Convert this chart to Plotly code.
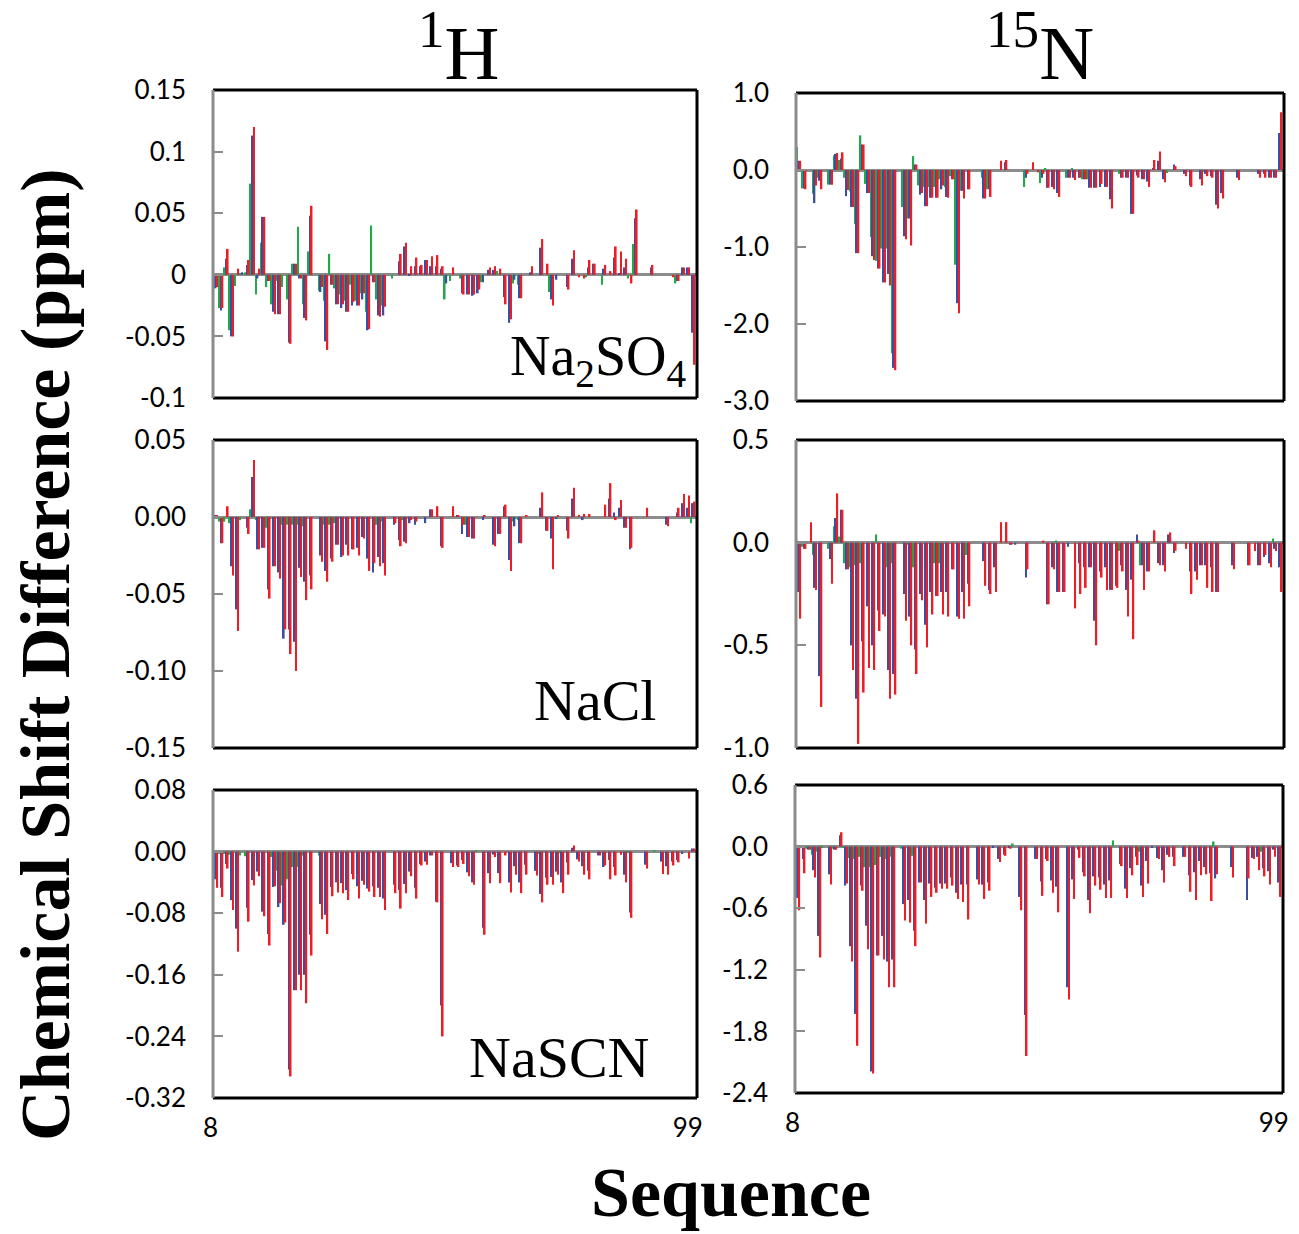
import plotly.graph_objects as go

residues = list(range(8, 100))

# ---- 1H, Na2SO4 ----
hs_g = [0, -0.027, 0.006, -0.045, -0.009, 0.001, 0.002, 0.074, -0.016, 0.026,
        -0.01, -0.024, -0.005, -0.01, -0.02, 0.009, 0.039, -0.024, 0.019, 0,
        -0.013, -0.021, 0.017, -0.011, -0.016, -0.021, -0.008, -0.021, -0.015, -0.03,
        0.04, -0.02, -0.025, 0, -0.003, 0, 0, 0, 0, 0,
        0, 0, 0, 0, -0.02, -0.005, 0, -0.003, 0, 0,
        0, -0.006, 0, 0, 0.003, 0, 0, -0.007, -0.008, 0,
        0, 0, 0, 0, -0.014, 0, 0, 0, 0, 0,
        0, -0.002, 0, 0, -0.008, 0, 0, 0, 0, -0.003,
        0.025, 0, 0, 0, 0, 0, 0, 0, -0.007, 0,
        0, 0]
hs_b = [-0.011, -0.029, 0.013, -0.05, 0, 0.002, 0.008, 0.113, -0.003, 0.047,
        -0.005, -0.03, -0.032, 0, -0.055, 0.009, -0.003, -0.035, 0.048, 0,
        -0.014, -0.054, -0.008, -0.024, -0.027, -0.03, -0.025, -0.025, -0.02, -0.045,
        -0.006, -0.033, -0.033, 0, 0, 0.011, 0.023, -0.001, 0.007, 0.007,
        0.012, 0.007, 0.007, 0.005, -0.007, 0, 0, -0.015, -0.016, -0.017,
        -0.015, -0.006, 0.004, 0.004, 0, -0.018, -0.039, -0.004, -0.019, 0,
        0.002, 0, 0.022, 0, -0.02, -0.004, 0, -0.01, 0.013, 0,
        0, 0.006, 0.009, 0, 0.005, 0, 0.014, 0.001, 0.006, 0,
        0.046, 0, 0, 0.006, 0, 0, 0, 0, -0.005, 0.006,
        0.006, -0.047]
hs_r = [-0.01, -0.027, 0.021, -0.05, 0.005, 0, 0.012, 0.12, 0.005, 0.047,
        -0.005, -0.032, -0.032, 0, -0.056, 0.009, -0.003, -0.037, 0.056, 0,
        -0.01, -0.061, -0.008, -0.024, -0.024, -0.03, -0.022, -0.025, -0.015, -0.044,
        -0.006, -0.034, -0.026, 0, 0, 0.017, 0.026, 0.007, 0.014, 0.008,
        0.012, 0.015, 0.016, 0.007, 0, 0.006, 0, -0.016, -0.016, -0.016,
        -0.012, 0, 0.006, 0.007, 0.005, -0.024, -0.036, 0, -0.019, 0,
        0.007, 0, 0.029, 0.009, -0.025, 0, 0, -0.012, 0.02, -0.002,
        -0.003, 0.012, 0.009, 0, 0.008, 0.003, 0.023, 0.019, 0.013, -0.007,
        0.053, 0, 0, 0.008, 0, 0, 0, -0.002, -0.005, 0.006,
        0.006, -0.073]

# ---- 1H, NaCl ----
hc_g = [-0.001, -0.003, -0.003, -0.004, 0, -0.002, 0, 0.005, -0.002, 0,
        -0.007, 0, 0, -0.005, -0.005, -0.005, -0.005, -0.006, 0, 0,
        0, -0.005, -0.005, -0.004, 0, 0, 0, 0, 0, 0,
        0, -0.005, -0.003, 0, 0, 0, -0.002, 0, 0, 0,
        0, 0, 0, 0, 0, 0, 0, 0, -0.005, 0,
        0, 0, 0, 0, 0, 0, 0, -0.003, -0.002, 0,
        0, 0, 0, 0, 0, 0, 0, 0, 0, 0,
        0, 0, 0, 0, 0, 0, 0, 0, 0, 0,
        0, 0, 0, 0, 0, 0, 0, 0, 0, 0,
        0, -0.004]
hc_b = [0.001, -0.017, 0, -0.032, -0.06, 0, -0.007, 0.026, -0.021, -0.02,
        -0.047, -0.032, -0.036, -0.079, -0.073, -0.081, -0.033, -0.042, -0.038, 0,
        -0.025, -0.035, -0.027, -0.018, -0.026, -0.018, -0.021, -0.02, -0.013, -0.027,
        -0.036, -0.026, -0.03, 0, -0.005, -0.015, -0.016, -0.004, -0.005, 0,
        -0.004, 0.005, 0, -0.019, 0, 0, 0.001, -0.011, -0.013, -0.014,
        0, -0.002, 0, -0.018, -0.011, 0.007, -0.028, -0.006, -0.017, 0,
        0, 0, 0.006, -0.009, -0.014, -0.001, 0, -0.009, 0.012, 0,
        -0.002, 0, 0, 0, 0, 0.012, 0.003, 0.006, -0.007, -0.021,
        0, 0, 0, 0, 0, 0, -0.005, 0, 0.003, 0.009,
        0.006, 0.009]
hc_r = [0.001, -0.017, 0.007, -0.038, -0.074, 0, -0.011, 0.037, -0.021, -0.02,
        -0.053, -0.032, -0.04, -0.073, -0.089, -0.1, -0.039, -0.054, -0.047, 0,
        -0.029, -0.042, -0.029, -0.018, -0.025, -0.025, -0.021, -0.025, -0.014, -0.035,
        -0.03, -0.032, -0.038, 0, -0.004, -0.019, -0.017, -0.002, -0.003, 0,
        0, 0.005, 0.007, -0.02, 0, 0.007, 0.001, -0.005, -0.013, -0.014,
        0, 0.001, 0, -0.019, -0.011, 0.008, -0.035, 0, -0.017, 0.001,
        0, 0, 0.016, -0.009, -0.034, 0.001, 0, -0.014, 0.019, 0.001,
        0.002, 0.002, 0, 0, 0.008, 0.022, -0.002, 0.011, -0.007, -0.02,
        0, 0, 0.006, 0, 0, 0, -0.006, 0, 0.006, 0.015,
        0.014, 0.01]

# ---- 1H, NaSCN ----
hn_g = [-0.003, -0.003, -0.003, -0.004, 0, -0.005, -0.006, 0, 0, 0,
        0, -0.007, -0.025, -0.044, -0.036, -0.02, -0.02, -0.005, 0, 0,
        -0.005, 0, 0, 0, 0, 0, 0, 0, 0, 0,
        0, 0, 0, 0, 0, 0, 0, 0, 0, 0,
        0, 0, 0, 0, 0, 0, 0, 0, 0, 0,
        0.002, 0, 0, 0, 0, 0, 0, 0, 0, 0,
        0, 0, -0.003, 0, 0, 0, -0.002, 0, 0, 0,
        0, 0, 0, 0, 0, 0, 0, 0, 0, -0.002,
        0, 0, 0, 0, 0.002, 0, 0, 0, 0, 0,
        0, 0]
hn_b = [-0.036, -0.047, -0.016, -0.063, -0.1, 0, -0.073, -0.037, -0.026, -0.078,
        -0.107, -0.046, -0.072, -0.095, -0.283, -0.18, -0.16, -0.16, -0.108, 0,
        -0.068, -0.082, -0.046, -0.04, -0.041, -0.05, -0.029, -0.045, -0.038, -0.048,
        -0.045, -0.047, -0.061, 0, -0.043, -0.05, -0.042, -0.026, -0.047, -0.016,
        -0.013, -0.005, -0.065, -0.2, 0, -0.015, -0.018, -0.011, -0.027, -0.04,
        0, -0.099, -0.028, -0.004, -0.028, 0, -0.04, -0.019, -0.04, -0.017,
        0, -0.025, -0.055, -0.034, -0.033, -0.026, -0.04, -0.014, 0.005, -0.01,
        -0.019, -0.025, 0, -0.005, -0.02, -0.011, -0.02, 0, -0.03, -0.079,
        0, 0, -0.017, 0, 0, -0.013, -0.019, -0.013, -0.011, -0.003,
        0, 0.004]
hn_r = [-0.047, -0.059, -0.022, -0.076, -0.13, 0, -0.091, -0.044, -0.032, -0.084,
        -0.122, -0.045, -0.067, -0.092, -0.292, -0.18, -0.18, -0.197, -0.135, 0,
        -0.088, -0.107, -0.058, -0.053, -0.054, -0.063, -0.036, -0.061, -0.043, -0.052,
        -0.059, -0.059, -0.076, 0, -0.054, -0.074, -0.054, -0.032, -0.061, -0.018,
        -0.017, -0.005, -0.066, -0.24, 0, -0.02, -0.02, -0.016, -0.032, -0.043,
        0, -0.108, -0.041, -0.007, -0.041, -0.005, -0.053, -0.03, -0.054, -0.03,
        0, -0.031, -0.066, -0.043, -0.043, -0.03, -0.054, -0.03, 0.008, -0.013,
        -0.03, -0.036, 0, -0.005, -0.018, -0.036, -0.031, -0.004, -0.04, -0.086,
        0, 0, -0.022, 0, 0, -0.029, -0.03, -0.018, -0.014, 0,
        -0.009, 0.004]

# ---- 15N, Na2SO4 ----
ns_g = [0.3, -0.24, 0, -0.31, -0.1, 0, -0.19, 0.19, 0.13, -0.1,
        -0.28, -0.7, 0.45, -0.18, -0.87, -1.18, -1.02, -1.02, -2.38, 0,
        -0.48, -0.63, 0.18, -0.2, -0.22, -0.22, -0.22, -0.12, -0.22, -0.08,
        -1.23, -0.27, 0, 0, 0, -0.1, -0.25, 0, 0, 0,
        0, 0, 0, -0.22, 0, 0, -0.17, 0.02, 0, 0,
        0, -0.1, 0.02, 0, -0.12, -0.12, 0, 0, 0, 0,
        0, -0.05, 0, 0, 0, 0, 0, 0, 0, 0,
        -0.04, 0, 0, 0, 0, 0, 0, -0.02, 0, 0,
        0, 0, 0, 0, 0, 0, 0, 0, 0, 0,
        0, 0]
ns_b = [0.12, -0.24, 0, -0.43, -0.14, 0, -0.19, 0.21, 0.15, -0.34,
        -0.48, -1.08, 0.33, -0.3, -1.12, -1.28, -1.46, -1.35, -2.57, 0,
        -0.86, -0.63, 0.07, -0.32, -0.47, -0.36, -0.36, -0.25, -0.35, -0.12,
        -1.73, -0.27, -0.25, 0, 0, -0.37, -0.25, 0, 0, 0.1,
        0, 0, 0, -0.1, 0, 0, -0.1, -0.23, -0.22, -0.3,
        0, -0.1, -0.1, -0.1, -0.12, -0.23, -0.23, -0.22, -0.22, -0.38,
        0, -0.1, -0.1, -0.57, -0.07, -0.12, -0.15, 0.02, 0.12, -0.12,
        0, 0.07, 0, -0.05, -0.2, 0, -0.12, -0.05, -0.08, -0.45,
        -0.3, 0, 0, -0.1, 0, 0, 0, -0.05, -0.05, -0.1,
        -0.1, 0.48]
ns_r = [0.12, -0.25, 0, -0.2, -0.25, 0, -0.19, 0.22, 0.23, -0.26,
        -0.48, -1.08, 0.33, -0.3, -1.17, -1.28, -1.46, -1.5, -2.6, 0,
        -0.9, -0.98, 0.07, -0.3, -0.47, -0.36, -0.36, -0.2, -0.36, -0.12,
        -1.86, -0.37, -0.25, 0, 0, -0.37, -0.35, 0, 0.12, 0.13,
        0, 0, 0, -0.05, 0.1, -0.03, -0.05, -0.23, -0.25, -0.35,
        0, -0.1, -0.13, -0.1, -0.12, -0.23, -0.23, -0.18, -0.22, -0.5,
        0, -0.1, -0.1, -0.57, -0.1, -0.12, -0.22, 0.13, 0.24, -0.16,
        0, 0.05, 0, -0.08, -0.22, 0, -0.2, -0.08, -0.1, -0.5,
        -0.37, 0, 0, -0.13, 0, 0, 0, -0.1, -0.1, -0.1,
        -0.1, 0.75]

# ---- 15N, NaCl ----
nc_g = [0.01, -0.02, 0, -0.06, 0, 0, -0.03, 0.08, 0.03, -0.1,
        -0.12, -0.11, -0.1, 0, 0, 0.04, 0, -0.12, -0.1, 0,
        0, -0.01, -0.12, 0, 0, 0, -0.1, -0.1, 0, 0,
        0, 0, -0.06, 0, 0, 0, 0, 0, 0, 0,
        0, 0, 0, 0, 0, 0, 0, 0, 0, 0.01,
        0, 0, 0, 0, 0, 0, 0, 0, 0, 0,
        0, -0.04, 0, 0, 0, -0.11, 0, 0, 0, 0,
        0, 0, 0, 0, 0, 0, 0, 0, 0, 0,
        0, 0, 0, 0, 0, 0, 0, 0, 0, 0,
        0.02, 0]
nc_b = [-0.24, -0.03, 0, -0.22, -0.65, 0, -0.08, 0.12, 0.16, -0.13,
        -0.5, -0.76, -0.48, -0.31, -0.5, -0.33, -0.35, -0.62, -0.64, 0,
        -0.25, -0.36, -0.52, -0.25, -0.4, -0.24, -0.26, -0.24, -0.24, -0.13,
        -0.36, -0.24, -0.2, 0, 0, -0.09, -0.23, -0.12, 0, 0,
        -0.01, -0.01, 0, -0.17, 0, 0, 0, -0.3, -0.12, -0.24,
        -0.24, -0.02, 0, -0.1, -0.12, -0.12, -0.38, -0.14, -0.12, -0.23,
        -0.21, -0.11, -0.23, -0.18, 0.04, -0.11, -0.14, 0, -0.1, -0.11,
        0.04, -0.05, 0, 0, -0.14, -0.14, -0.11, -0.11, -0.12, -0.24,
        0, 0, -0.11, 0, 0, -0.11, 0, -0.11, -0.07, -0.1,
        -0.03, -0.12]
nc_r = [-0.37, -0.03, 0.1, -0.23, -0.8, 0, -0.2, 0.24, 0.16, -0.13,
        -0.62, -0.98, -0.73, -0.61, -0.62, -0.43, -0.36, -0.76, -0.74, 0,
        -0.38, -0.5, -0.64, -0.28, -0.51, -0.35, -0.26, -0.35, -0.36, -0.13,
        -0.37, -0.37, -0.31, 0, 0, -0.21, -0.25, -0.24, 0.1, 0.1,
        -0.01, 0, 0, -0.13, 0, 0, 0.01, -0.3, -0.13, -0.24,
        -0.24, 0, -0.32, -0.25, -0.22, -0.12, -0.5, -0.17, -0.23, -0.23,
        -0.22, -0.14, -0.36, -0.47, 0.01, -0.23, -0.14, 0.06, -0.11, -0.14,
        0.05, -0.04, 0, -0.03, -0.25, -0.18, -0.11, -0.22, -0.24, -0.24,
        0, 0, -0.13, 0, 0, -0.11, -0.04, -0.11, -0.06, -0.12,
        -0.04, -0.24]

# ---- 15N, NaSCN ----
nn_g = [0, 0, -0.02, -0.08, -0.05, -0.01, 0, -0.02, 0, -0.01,
        -0.11, -0.12, -0.1, -0.2, -0.2, -0.18, -0.1, -0.12, -0.1, 0,
        -0.02, 0, -0.09, 0, 0, 0, 0, 0, 0, 0,
        0, 0, 0, 0, 0, 0, 0, 0, 0, 0,
        0, 0.03, 0, 0, 0, 0, 0, 0, 0, 0,
        0, 0, 0, 0, 0, 0, 0, 0, 0, 0,
        0.06, 0, 0, 0, 0, -0.05, 0, 0, 0, 0,
        0, 0, 0, 0, 0, 0, 0, 0, 0, 0.05,
        0, 0, 0, 0, 0, 0, 0, 0, -0.05, 0,
        0, 0]
nn_b = [-0.5, -0.12, -0.03, -0.23, -0.87, 0, -0.27, -0.03, 0.11, -0.38,
        -0.97, -1.63, -0.38, -0.77, -2.19, -1.06, -0.87, -1.12, -1.1, 0,
        -0.56, -0.52, -0.82, -0.35, -0.52, -0.36, -0.4, -0.36, -0.36, -0.3,
        -0.45, -0.37, -0.37, 0, -0.32, -0.37, -0.35, -0.01, -0.12, -0.08,
        -0.01, 0, -0.49, -1.64, 0, -0.12, -0.34, -0.12, -0.33, -0.39,
        0, -1.37, -0.32, -0.03, -0.25, -0.52, -0.29, -0.3, -0.37, -0.33,
        0, -0.17, -0.41, -0.21, -0.1, -0.38, -0.14, -0.01, -0.11, -0.23,
        -0.08, -0.1, 0, -0.1, -0.28, -0.25, -0.14, -0.2, -0.26, -0.31,
        0, 0, -0.2, 0, 0, -0.52, -0.11, -0.1, -0.21, -0.24,
        -0.03, -0.35]
nn_r = [-0.62, -0.26, -0.03, -0.3, -1.08, 0, -0.37, -0.03, 0.14, -0.36,
        -1.12, -1.94, -0.43, -1.0, -2.21, -1.06, -1.1, -1.37, -1.37, 0,
        -0.72, -0.74, -0.97, -0.35, -0.75, -0.49, -0.45, -0.41, -0.41, -0.38,
        -0.51, -0.54, -0.71, 0, -0.37, -0.51, -0.43, 0, -0.15, -0.09,
        -0.02, 0, -0.62, -2.04, 0, -0.12, -0.48, -0.14, -0.45, -0.64,
        0, -1.49, -0.51, -0.11, -0.29, -0.65, -0.38, -0.42, -0.5, -0.5,
        0, -0.19, -0.5, -0.28, -0.18, -0.49, -0.36, 0, -0.12, -0.35,
        -0.1, -0.19, 0, -0.1, -0.44, -0.52, -0.28, -0.27, -0.53, -0.27,
        0, 0, -0.3, 0, 0, -0.31, -0.12, -0.23, -0.29, -0.37,
        -0.1, -0.49]

# tick settings
hs_ticks = [-0.1, -0.05, 0, 0.05, 0.1, 0.15]
hs_text = ["-0.1", "-0.05", "0", "0.05", "0.1", "0.15"]
hc_ticks = [-0.15, -0.1, -0.05, 0, 0.05]
hc_text = ["-0.15", "-0.10", "-0.05", "0.00", "0.05"]
hn_ticks = [-0.32, -0.24, -0.16, -0.08, 0, 0.08]
hn_text = ["-0.32", "-0.24", "-0.16", "-0.08", "0.00", "0.08"]
ns_ticks = [-3, -2, -1, 0, 1]
ns_text = ["-3.0", "-2.0", "-1.0", "0.0", "1.0"]
nc_ticks = [-1, -0.5, 0, 0.5]
nc_text = ["-1.0", "-0.5", "0.0", "0.5"]
nn_ticks = [-2.4, -1.8, -1.2, -0.6, 0, 0.6]
nn_text = ["-2.4", "-1.8", "-1.2", "-0.6", "0.0", "0.6"]

W, H = 1299, 1234
def px_x(a, b):
    return [a / W, b / W]
def px_y(top, bot):
    return [1 - bot / H, 1 - top / H]

panels = [
    dict(g=hs_g, b=hs_b, r=hs_r, xd=px_x(213, 697), yd=px_y(90, 398), rng=[-0.1, 0.15], tv=hs_ticks, tt=hs_text, bottom=False),
    dict(g=ns_g, b=ns_b, r=ns_r, xd=px_x(796, 1284), yd=px_y(93, 401), rng=[-3, 1], tv=ns_ticks, tt=ns_text, bottom=False),
    dict(g=hc_g, b=hc_b, r=hc_r, xd=px_x(213, 697), yd=px_y(440, 748), rng=[-0.15, 0.05], tv=hc_ticks, tt=hc_text, bottom=False),
    dict(g=nc_g, b=nc_b, r=nc_r, xd=px_x(796, 1284), yd=px_y(440, 748), rng=[-1, 0.5], tv=nc_ticks, tt=nc_text, bottom=False),
    dict(g=hn_g, b=hn_b, r=hn_r, xd=px_x(213, 697), yd=px_y(790, 1098), rng=[-0.32, 0.08], tv=hn_ticks, tt=hn_text, bottom=True),
    dict(g=nn_g, b=nn_b, r=nn_r, xd=px_x(795, 1283), yd=px_y(785, 1093), rng=[-2.4, 0.6], tv=nn_ticks, tt=nn_text, bottom=True),
]

GREEN, BLUE, RED = "#22a84a", "#3b4ea0", "#ee1c25"
tickfont = dict(family="Lato, sans-serif", size=26, color="black")

fig = go.Figure()
layout = dict(width=W, height=H, margin=dict(l=0, r=0, t=0, b=0, autoexpand=False),
              paper_bgcolor="white", plot_bgcolor="white",
              barmode="group", bargap=0.06, bargroupgap=0, showlegend=False)
shapes = []
for i, p in enumerate(panels):
    s = "" if i == 0 else str(i + 1)
    for vals, col in ((p["g"], GREEN), (p["b"], BLUE), (p["r"], RED)):
        fig.add_trace(go.Bar(x=residues, y=vals, marker=dict(color=col, line=dict(width=0)),
                             xaxis="x" + s, yaxis="y" + s, hoverinfo="skip"))
    layout["xaxis" + s] = dict(domain=p["xd"], anchor="y" + s, range=[7.5, 99.8],
                               automargin=False,
                               showgrid=False, zeroline=False, showline=False,
                               tickvals=[8, 99] if p["bottom"] else [],
                               ticktext=["8", "99"] if p["bottom"] else [],
                               ticks="", tickfont=tickfont, ticklabelstandoff=12,
                               ticklabelshift=-5,
                               showticklabels=p["bottom"])
    layout["yaxis" + s] = dict(domain=p["yd"], anchor="x" + s, range=p["rng"],
                               automargin=False,
                               showgrid=False, zeroline=True, zerolinecolor="#8c8c8c",
                               zerolinewidth=3, showline=False,
                               tickvals=p["tv"], ticktext=p["tt"], ticks="inside",
                               ticklen=10, tickwidth=2, tickcolor="#8c8c8c",
                               tickfont=tickfont, ticklabelstandoff=26)
    xr, yr = "x" + s + " domain", "y" + s + " domain"
    for (x0, y0, x1, y1, c) in ((0, 1, 1, 1, "black"), (1, 0, 1, 1, "black"),
                                (0, 0, 1, 0, "black"), (0, 0, 0, 1, "#8c8c8c")):
        shapes.append(dict(type="line", xref=xr, yref=yr, x0=x0, y0=y0, x1=x1, y1=y1,
                           line=dict(color=c, width=3), layer="above"))
layout["shapes"] = shapes

serif = "Liberation Serif, Times New Roman, serif"
annotations = [
    dict(text="<sup>1</sup>H", x=458 / W, y=1 - 48 / H, font=dict(family=serif, size=76, color="black")),
    dict(text="<sup>15</sup>N", x=1040 / W, y=1 - 48 / H, font=dict(family=serif, size=76, color="black")),
    dict(text="<b>Chemical Shift Difference (ppm)</b>", x=45 / W, y=1 - 655 / H, textangle=-90,
         font=dict(family=serif, size=70, color="black")),
    dict(text="<b>Sequence</b>", x=731 / W, y=1 - 1192 / H, font=dict(family=serif, size=70, color="black")),
    dict(text="Na<sub>2</sub>SO<sub>4</sub>", x=688 / W, y=1 - 360 / H, xanchor="right",
         font=dict(family=serif, size=56, color="black")),
    dict(text="NaCl", x=658 / W, y=1 - 700 / H, xanchor="right", font=dict(family=serif, size=58, color="black")),
    dict(text="NaSCN", x=651 / W, y=1 - 1057 / H, xanchor="right", font=dict(family=serif, size=58, color="black")),
]
for a in annotations:
    a.setdefault("xanchor", "center")
    a.update(xref="paper", yref="paper", yanchor="middle", showarrow=False)
layout["annotations"] = annotations
fig.update_layout(**layout)
fig.write_html("out.html")
